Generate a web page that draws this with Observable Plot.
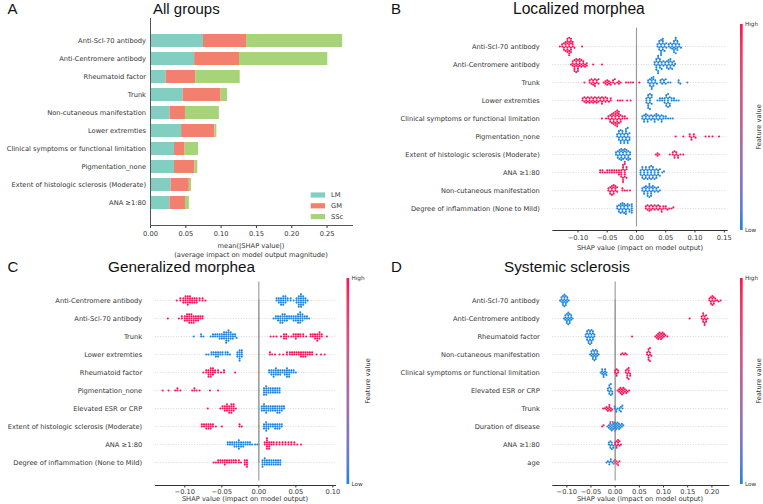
<!DOCTYPE html>
<html><head><meta charset="utf-8">
<script src="https://cdn.jsdelivr.net/npm/d3@7"></script>
<script src="https://cdn.jsdelivr.net/npm/@observablehq/plot@0.6"></script>
<style>
html,body{margin:0;padding:0;background:#fff;}
#fig{position:relative;width:763px;height:504px;overflow:hidden;background:#fff;}
</style></head><body><div id="fig"></div>
<script>
// ---------- Panel A data ----------
const A_features = ["Anti-Scl-70 antibody","Anti-Centromere antibody","Rheumatoid factor","Trunk","Non-cutaneous manifestation","Lower extremties","Clinical symptoms or functional limitation","Pigmentation_none","Extent of histologic sclerosis (Moderate)","ANA \u22651:80"];
const A_groups = ["LM","GM","SSc"];
const A_colors = ["#82cfc1","#f3806f","#a7d479"];
const A_LM  = [0.075,0.0625,0.022,0.046,0.0275,0.044,0.034,0.034,0.029,0.0275];
const A_GM  = [0.061,0.0635,0.042,0.054,0.022,0.047,0.015,0.029,0.026,0.022];
const A_SSc = [0.136,0.125,0.063,0.009,0.048,0.003,0.019,0.004,0.003,0.0055];
const A_ticks = [0,0.05,0.10,0.15,0.20,0.25];

// ---------- Panel B data (Localized morphea) ----------
const B_features = ["Anti-Scl-70 antibody","Anti-Centromere antibody","Trunk","Lower extremties","Clinical symptoms or functional limitation","Pigmentation_none","Extent of histologic sclerosis (Moderate)","ANA \u22651:80","Non-cutaneous manifestation","Degree of inflammation (None to Mild)"];
const B_high = [
 [[-0.131,1],[-0.127,2],[-0.124,3],[-0.121,4],[-0.118,6],[-0.115,7],[-0.112,6],[-0.109,3],[-0.106,1],[-0.093,1]],
 [[-0.112,1],[-0.109,3],[-0.106,5],[-0.103,5],[-0.100,5],[-0.097,4],[-0.094,3],[-0.091,3],[-0.088,2],[-0.085,2],[-0.074,1],[-0.059,1]],
 [[-0.089,1],[-0.080,2],[-0.077,2],[-0.074,3],[-0.071,3],[-0.068,2],[-0.065,2],[-0.056,1],[-0.053,2],[-0.050,3],[-0.047,2],[-0.044,2],[-0.040,2],[-0.037,2],[-0.033,1],[-0.030,2],[-0.027,1],[-0.018,1],[-0.014,1],[-0.010,1],[-0.006,1],[0.005,1]],
 [[-0.092,2],[-0.089,2],[-0.086,3],[-0.083,2],[-0.080,3],[-0.077,2],[-0.074,3],[-0.071,2],[-0.068,3],[-0.065,2],[-0.062,2],[-0.059,3],[-0.056,2],[-0.053,2],[-0.050,2],[-0.047,1],[-0.044,2],[-0.032,1],[-0.028,1],[-0.024,1],[-0.016,1],[-0.010,1]],
 [[-0.059,1],[-0.052,1],[-0.048,2],[-0.045,3],[-0.042,4],[-0.039,5],[-0.036,6],[-0.033,7],[-0.030,5],[-0.027,3],[-0.024,2],[-0.020,2],[-0.016,1]],
 [[0.067,1],[0.080,1],[0.091,2],[0.094,2],[0.098,2],[0.101,1],[0.118,1],[0.124,1],[0.130,1],[0.141,1]],
 [[0.033,1],[0.036,2],[0.039,1],[0.057,1],[0.062,2],[0.065,3],[0.068,2],[0.071,2],[0.075,1],[0.080,1]],
 [[-0.062,2],[-0.058,2],[-0.054,1],[-0.050,2],[-0.046,2],[-0.042,2],[-0.038,2],[-0.034,2],[-0.030,3],[-0.026,4],[-0.023,6],[-0.020,6],[-0.017,3]],
 [[-0.048,2],[-0.045,3],[-0.042,4],[-0.039,4],[-0.036,3],[-0.033,2],[-0.024,2],[-0.020,1],[-0.016,1],[-0.011,1]],
 [[0.016,2],[0.019,2],[0.022,3],[0.025,2],[0.028,2],[0.031,2],[0.034,2],[0.037,2],[0.040,2],[0.043,2],[0.046,2],[0.050,2],[0.053,1],[0.056,1],[0.060,1],[0.063,1]]
];
const B_low = [
 [[0.036,2],[0.039,4],[0.042,6],[0.045,5],[0.048,3],[0.051,2],[0.055,2],[0.058,2],[0.061,3],[0.064,5],[0.067,6],[0.070,4],[0.073,2],[0.076,1]],
 [[0.031,2],[0.034,5],[0.037,6],[0.040,4],[0.043,3],[0.046,2],[0.049,2],[0.052,3],[0.055,4],[0.058,4],[0.061,3],[0.064,2],[0.066,1]],
 [[0.020,2],[0.023,3],[0.026,5],[0.029,4],[0.032,2],[0.035,1],[0.041,2],[0.044,2],[0.047,2],[0.050,2],[0.054,1],[0.058,1],[0.072,2],[0.075,1],[0.087,1]],
 [[0.017,3],[0.020,5],[0.023,5],[0.026,3],[0.036,1],[0.040,2],[0.044,2],[0.048,3],[0.051,4],[0.054,5],[0.057,3],[0.060,2],[0.064,2],[0.068,1],[0.072,1]],
 [[0.010,2],[0.013,3],[0.016,3],[0.019,3],[0.022,2],[0.025,2],[0.028,2],[0.031,3],[0.034,3],[0.037,2],[0.040,2],[0.043,3],[0.046,2],[0.050,2],[0.054,1],[0.058,1],[0.062,1]],
 [[-0.033,2],[-0.030,4],[-0.027,5],[-0.024,4],[-0.021,4],[-0.018,5],[-0.015,5],[-0.012,3]],
 [[-0.035,2],[-0.032,3],[-0.029,4],[-0.026,5],[-0.023,4],[-0.020,4],[-0.017,4],[-0.014,4],[-0.011,3]],
 [[0.007,3],[0.010,4],[0.013,4],[0.016,4],[0.019,4],[0.022,4],[0.025,5],[0.028,4],[0.031,4],[0.034,3],[0.037,3],[0.040,2],[0.044,1],[0.047,1]],
 [[0.010,2],[0.013,3],[0.016,3],[0.019,4],[0.022,5],[0.025,4],[0.028,3],[0.031,2],[0.034,2],[0.037,2],[0.040,1]],
 [[-0.033,2],[-0.030,3],[-0.027,4],[-0.024,4],[-0.021,4],[-0.018,4],[-0.015,3],[-0.012,3],[-0.008,5]]
];
const B_ticks = [-0.10,-0.05,0,0.05,0.10,0.15];

// ---------- Panel C data (Generalized morphea) ----------
const C_features = ["Anti-Centromere antibody","Anti-Scl-70 antibody","Trunk","Lower extremties","Rheumatoid factor","Pigmentation_none","Elevated ESR or CRP","Extent of histologic sclerosis (Moderate)","ANA \u22651:80","Degree of inflammation (None to Mild)"];
const C_high = [
 [[-0.111,1],[-0.106,2],[-0.102,3],[-0.099,4],[-0.096,5],[-0.093,4],[-0.090,3],[-0.087,3],[-0.084,3],[-0.080,2],[-0.076,2],[-0.072,1]],
 [[-0.123,1],[-0.108,1],[-0.104,2],[-0.100,3],[-0.097,4],[-0.094,5],[-0.091,5],[-0.088,4],[-0.085,3],[-0.082,3],[-0.079,2],[-0.076,2]],
 [[0.016,1],[0.020,1],[0.024,1],[0.030,1],[0.034,3],[0.037,3],[0.040,1],[0.044,1],[0.047,2],[0.050,3],[0.053,2],[0.056,2],[0.060,2],[0.064,1],[0.070,2],[0.073,2],[0.076,3],[0.079,4],[0.082,4],[0.085,2],[0.092,1]],
 [[0.015,2],[0.018,1],[0.022,1],[0.028,1],[0.033,1],[0.038,2],[0.042,2],[0.045,2],[0.048,2],[0.051,2],[0.054,2],[0.057,3],[0.060,3],[0.063,3],[0.066,2],[0.069,2],[0.072,2],[0.078,1],[0.084,1],[0.089,1]],
 [[-0.075,1],[-0.071,2],[-0.068,4],[-0.065,5],[-0.062,4],[-0.059,2],[-0.055,2],[-0.051,1],[-0.047,2],[-0.032,1]],
 [[-0.130,1],[-0.122,1],[-0.113,1],[-0.110,2],[-0.106,1],[-0.090,1],[-0.087,2],[-0.084,1],[-0.080,1],[-0.066,1],[-0.055,1]],
 [[-0.069,1],[-0.052,1],[-0.049,2],[-0.046,3],[-0.043,4],[-0.040,4],[-0.037,5],[-0.034,4],[-0.031,1]],
 [[-0.077,2],[-0.074,2],[-0.071,3],[-0.068,3],[-0.065,3],[-0.062,2],[-0.058,1],[-0.050,1],[-0.026,2],[-0.023,1]],
 [[0.008,2],[0.011,6],[0.014,4],[0.017,2],[0.020,2],[0.024,2],[0.028,2],[0.032,2],[0.036,2],[0.040,2],[0.044,2],[0.048,2],[0.052,1],[0.057,1]],
 [[-0.061,1],[-0.058,1],[-0.055,2],[-0.052,2],[-0.049,2],[-0.046,3],[-0.043,2],[-0.040,2],[-0.037,2],[-0.034,2],[-0.031,2],[-0.027,2],[-0.024,1],[-0.019,3],[-0.016,4]]
];
const C_low = [
 [[0.024,2],[0.027,3],[0.030,4],[0.033,5],[0.036,4],[0.039,2],[0.043,2],[0.047,1],[0.051,3],[0.054,6],[0.057,7],[0.060,5],[0.063,3],[0.066,1]],
 [[0.020,1],[0.023,2],[0.026,3],[0.029,4],[0.032,5],[0.035,4],[0.038,3],[0.041,2],[0.044,2],[0.047,3],[0.050,3],[0.053,5],[0.056,6],[0.059,4],[0.062,2],[0.065,2],[0.068,1]],
 [[-0.088,1],[-0.078,2],[-0.075,1],[-0.065,1],[-0.062,2],[-0.059,2],[-0.056,2],[-0.053,3],[-0.050,3],[-0.047,4],[-0.044,6],[-0.041,6],[-0.038,4],[-0.035,3],[-0.032,2],[-0.030,1]],
 [[-0.071,1],[-0.068,1],[-0.064,2],[-0.061,2],[-0.058,3],[-0.055,3],[-0.052,2],[-0.049,2],[-0.045,2],[-0.042,2],[-0.039,1],[-0.029,3],[-0.026,6],[-0.023,4]],
 [[0.014,2],[0.017,3],[0.020,4],[0.023,4],[0.026,3],[0.029,3],[0.032,2],[0.035,3],[0.038,5],[0.041,4],[0.044,2],[0.047,2],[0.050,1]],
 [[0.007,4],[0.010,5],[0.013,3],[0.016,3],[0.019,3],[0.022,3],[0.025,3],[0.028,3]],
 [[0.004,3],[0.007,4],[0.010,4],[0.013,3],[0.016,3],[0.019,3],[0.022,3],[0.025,4],[0.028,4],[0.031,3],[0.034,2]],
 [[0.007,3],[0.010,5],[0.013,3],[0.016,2],[0.019,2],[0.022,3],[0.025,3],[0.028,3],[0.031,2]],
 [[-0.042,2],[-0.039,2],[-0.036,2],[-0.033,3],[-0.030,3],[-0.027,5],[-0.024,3],[-0.021,3],[-0.018,2],[-0.015,2],[-0.012,2],[-0.009,1],[-0.005,1],[-0.002,1]],
 [[0.005,4],[0.008,4],[0.011,3],[0.014,3],[0.017,3],[0.020,3],[0.023,3],[0.026,3],[0.029,3]]
];
const C_ticks = [-0.10,-0.05,0,0.05,0.10];

// ---------- Panel D data (Systemic sclerosis) ----------
const D_features = ["Anti-Scl-70 antibody","Anti-Centromere antibody","Rheumatoid factor","Non-cutaneous manifestation","Clinical symptoms or functional limitation","Elevated ESR or CRP","Trunk","Duration of disease","ANA \u22651:80","age"];
const D_high = [
 [[0.195,2],[0.198,3],[0.201,4],[0.204,3],[0.207,2],[0.211,1],[0.214,1],[0.218,1]],
 [[0.154,1],[0.179,2],[0.182,4],[0.185,4],[0.188,3],[0.191,1]],
 [[0.035,1],[0.083,1],[0.086,2],[0.089,3],[0.092,3],[0.095,3],[0.098,3],[0.101,2],[0.104,1],[0.108,1]],
 [[0.012,1],[0.015,1],[0.018,1],[0.021,1],[0.024,1],[0.066,2],[0.069,5],[0.072,4],[0.075,1]],
 [[0.000,2],[0.003,3],[0.006,2],[0.022,2],[0.025,4],[0.028,4],[0.031,2]],
 [[0.005,1],[0.008,2],[0.011,3],[0.014,3],[0.017,3],[0.020,2],[0.023,2],[0.026,1],[0.029,1]],
 [[-0.025,1],[-0.021,1],[-0.018,2],[-0.015,2],[-0.012,3],[-0.009,2],[-0.006,1]],
 [[-0.027,1],[-0.024,1]],
 [[0.000,2],[0.003,3],[0.006,3],[0.009,2],[0.012,1]],
 []
];
const D_low = [
 [[-0.114,1],[-0.111,3],[-0.108,4],[-0.105,5],[-0.102,4],[-0.099,3],[-0.096,1]],
 [[-0.106,1],[-0.103,3],[-0.100,4],[-0.097,5],[-0.094,4],[-0.091,3],[-0.088,1]],
 [[-0.061,2],[-0.058,4],[-0.055,5],[-0.052,5],[-0.049,5],[-0.046,4],[-0.043,2]],
 [[-0.052,1],[-0.049,3],[-0.046,4],[-0.043,4],[-0.040,4],[-0.037,3],[-0.034,1]],
 [[-0.030,1],[-0.027,3],[-0.024,3],[-0.021,3],[-0.018,2]],
 [[-0.015,2],[-0.012,4],[-0.009,4],[-0.006,2]],
 [[-0.001,2],[0.002,2],[0.005,1],[0.009,2],[0.012,2],[0.015,2]],
 [[-0.016,1],[-0.013,2],[-0.010,3],[-0.007,3],[-0.004,3],[-0.001,3],[0.002,3],[0.005,3],[0.008,3],[0.011,2],[0.014,2],[0.017,1]],
 [[-0.013,2],[-0.010,3],[-0.007,3],[-0.004,2]],
 [[-0.018,1],[-0.015,1],[-0.012,2],[-0.009,2],[-0.006,1]]
];
// [value, count, feature value] for intermediate (purple) feature values
const D_mid = [[],[],[],[],[],[],[],
 [[-0.010,1,0.75],[-0.005,1,0.6],[0.000,1,0.5]],
 [],
 [[-0.003,2,0.55],[0.000,2,0.7],[0.003,2,0.8],[0.006,2,0.85],[0.009,1,0.9]]
];
const D_ticks = [-0.10,-0.05,0,0.05,0.10,0.15,0.20];

// ---------- helpers ----------
const fig = document.getElementById("fig");
const BLUE = "#1f84dc", RED = "#fb1258";
const interp = d3.interpolateLab(BLUE, RED);
const fmt = d3.format(".2f");
const baseStyle = {background:"transparent", overflow:"visible", fontFamily:"DejaVu Sans", fontSize:"6.7px", color:"#333", maxWidth:"none"};
function place(el, left, top){ el.style.position="absolute"; el.style.left=left+"px"; el.style.top=top+"px"; fig.appendChild(el); }

// ---------- Panel A ----------
const A_rows = [];
A_features.forEach((f,i)=>{
  A_rows.push({feature:f, group:"LM", value:A_LM[i]});
  A_rows.push({feature:f, group:"GM", value:A_GM[i]});
  A_rows.push({feature:f, group:"SSc", value:A_SSc[i]});
});
place(Plot.plot({
  width:380, height:260, marginLeft:150, marginRight:28, marginTop:18, marginBottom:35,
  style:baseStyle,
  x:{domain:[0,0.286]},
  y:{domain:A_features, paddingInner:0.26, paddingOuter:0.62},
  color:{domain:A_groups, range:A_colors},
  marks:[
    Plot.barX(A_rows, Plot.stackX({x:"value", y:"feature", fill:"group", order:A_groups})),
    Plot.axisX({ticks:A_ticks, tickFormat:fmt, tickSize:3, tickPadding:2.5, label:null}),
    Plot.axisY({tickSize:0, tickPadding:4.5, label:null}),
    Plot.frame({anchor:"left", stroke:"#555"}),
    Plot.frame({anchor:"bottom", stroke:"#555"})
  ]
}), 0, 0);

// ---------- beeswarm panels ----------
function swarm(o){
  const rows = [];
  o.features.forEach((f,i)=>{
    o.low[i].forEach(([v,c])=>{ for(let k=0;k<c;k++) rows.push({feature:f, x:v, fv:0}); });
    o.high[i].forEach(([v,c])=>{ for(let k=0;k<c;k++) rows.push({feature:f, x:v, fv:1}); });
    if (o.mid) o.mid[i].forEach(([v,c,fv])=>{ for(let k=0;k<c;k++) rows.push({feature:f, x:v, fv}); });
  });
  const step = (o.facetBottom - o.facetTop)/o.features.length;
  const h = o.facetBottom - o.top;
  place(Plot.plot({
    width:o.width, height:h, marginTop:o.facetTop - o.top, marginBottom:0,
    marginLeft:o.mLeft, marginRight:o.mRight, style:baseStyle,
    x:{domain:o.domain, axis:null},
    fy:{domain:o.features, padding:0, label:null},
    color:{type:"linear", domain:[0,1], interpolate:interp},
    marks:[
      Plot.gridFy({stroke:"#c8c8c8", strokeOpacity:1, strokeWidth:0.7, strokeDasharray:"1,1.6"}),
      Plot.axisFy({anchor:"left", tickSize:0, tickPadding:o.pad, label:null}),
      Plot.ruleX([0], {stroke:"#999", strokeWidth:1.1, insetTop:-step/2, insetBottom:-step/2}),
      Plot.dot(rows, Plot.dodgeY({anchor:"middle", padding:o.dodgePad}, {x:"x", fy:"feature", r:1.05, fill:"fv"}))
    ]
  }), o.left, o.top);
  // x axis (bottom spine) below the facets
  place(Plot.plot({
    width:o.width, height:34, marginTop:5, marginBottom:28,
    marginLeft:o.mLeft, marginRight:o.mRight, style:baseStyle,
    x:{domain:o.domain},
    marks:[
      Plot.frame({anchor:"bottom", stroke:"#333"}),
      Plot.axisX({ticks:o.ticks, tickFormat:fmt, tickSize:2.5, tickPadding:o.tickPad, label:null})
    ]
  }), o.left, o.axisY - 6);
}

swarm({features:B_features, high:B_high, low:B_low, left:380, top:0, width:383,
  facetTop:33.3, facetBottom:220.7, axisY:230, mLeft:172.3, mRight:36.3, pad:13, tickPad:2.2, dodgePad:0,
  domain:[-0.143,0.155], ticks:B_ticks});
swarm({features:C_features, high:C_high, low:C_low, left:0, top:250, width:380,
  facetTop:287.3, facetBottom:475.4, axisY:484.5, mLeft:155, mRight:45, pad:13.3, tickPad:1.1, dodgePad:0,
  domain:[-0.1396,0.1036], ticks:C_ticks});
swarm({features:D_features, high:D_high, low:D_low, mid:D_mid, left:380, top:250, width:383,
  facetTop:287.3, facetBottom:475.4, axisY:484.5, mLeft:172.3, mRight:34.7, pad:13, tickPad:1.1, dodgePad:-0.15,
  domain:[-0.129,0.235], ticks:D_ticks});

// ---------- overlay: titles, labels, legend, colorbars ----------
const ov = d3.create("svg").attr("width",763).attr("height",504)
  .style("position","absolute").style("left","0px").style("top","0px").style("overflow","visible");
function txt(x,y,s,size,opts={}){
  const t = ov.append("text").attr("x",x).attr("y",y).text(s)
    .attr("font-family", opts.family || "DejaVu Sans").attr("font-size", size)
    .attr("fill", opts.fill || "#333").attr("text-anchor", opts.anchor || "start");
  if (opts.rotate) t.attr("transform", `rotate(-90,${x},${y})`);
  return t;
}
const TF = {family:"Liberation Sans", fill:"#111"};
txt(7.5,13.6,"A",15,TF); txt(153,13.6,"All groups",15,TF);
txt(391,13.6,"B",15,TF); txt(513,13.6,"Localized morphea",15.6,TF);
txt(7.5,272,"C",15,TF); txt(108,272,"Generalized morphea",15.3,TF);
txt(391,272,"D",15,TF); txt(504,272,"Systemic sclerosis",15.3,TF);

txt(251,248,"mean(|SHAP value|)",6.7,{anchor:"middle"});
txt(251,256.5,"(average impact on model output magnitude)",6.7,{anchor:"middle"});
txt(640,249.5,"SHAP value (impact on model output)",6.7,{anchor:"middle"});
txt(245,501.3,"SHAP value (impact on model output)",6.7,{anchor:"middle"});
txt(640,501.3,"SHAP value (impact on model output)",6.7,{anchor:"middle"});

// legend for A
A_groups.forEach((g,i)=>{
  const cy = 195 + i*10.8;
  ov.append("rect").attr("x",310.7).attr("y",cy-2.6).attr("width",14.3).attr("height",5.2).attr("fill",A_colors[i]);
  txt(331,cy+2.4,g,6.7);
});

// colorbars
const defs = ov.append("defs");
const grad = defs.append("linearGradient").attr("id","cb").attr("x1",0).attr("x2",0).attr("y1",1).attr("y2",0);
d3.range(0,1.0001,0.1).forEach(t=>grad.append("stop").attr("offset",t).attr("stop-color",interp(t)));
function colorbar(x,y0,y1,labelX){
  ov.append("rect").attr("x",x).attr("y",y0).attr("width",2.7).attr("height",y1-y0).attr("fill","url(#cb)");
  txt(x+5,y0+2,"High",5.7);
  txt(x+5,y1+2,"Low",5.7);
  txt(labelX,(y0+y1)/2,"Feature value",6.7,{anchor:"middle",rotate:true});
}
colorbar(740,24,230,761);
colorbar(346.5,278,484,369.5);
colorbar(740,278,484,761);

fig.appendChild(ov.node());
</script>
</body></html>
